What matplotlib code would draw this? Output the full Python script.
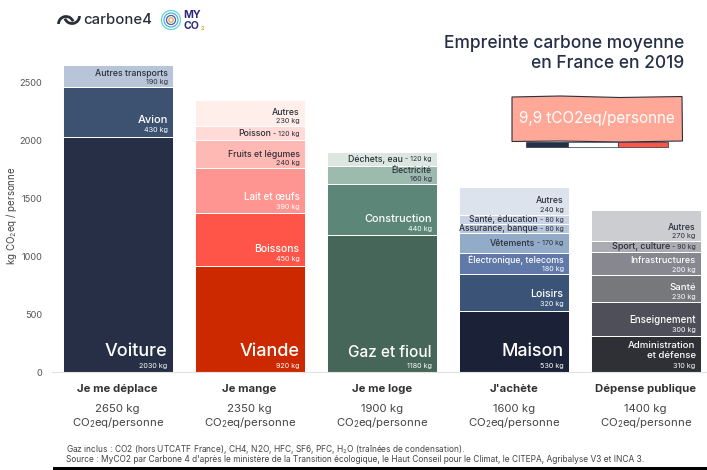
import matplotlib
matplotlib.use('Agg')
import matplotlib.pyplot as plt
from matplotlib.patches import Rectangle, Polygon, Circle, Arc

plt.rcParams['font.family'] = ['Inter', 'DejaVu Sans']
plt.rcParams['mathtext.default'] = 'regular'

# data, one list per column, from the bottom up
categories = ['Je me déplace', 'Je mange', 'Je me loge', "J'achète", 'Dépense publique']
totals = [2650, 2350, 1900, 1600, 1400]
yticks = [0, 500, 1000, 1500, 2000, 2500]

deplace_names = ['Voiture', 'Avion', 'Autres transports']
deplace_vals = [2030, 430, 190]
mange_names = ['Viande', 'Boissons', 'Lait et œufs', 'Fruits et légumes', 'Poisson', 'Autres']
mange_vals = [920, 450, 390, 240, 120, 230]
loge_names = ['Gaz et fioul', 'Construction', 'Électricité', 'Déchets, eau']
loge_vals = [1180, 440, 160, 120]
achete_names = ['Maison', 'Loisirs', 'Électronique, telecoms', 'Vêtements',
                'Assurance, banque', 'Santé, éducation', 'Autres']
achete_vals = [530, 320, 180, 170, 80, 80, 240]
public_names = ['Administration\net défense', 'Enseignement', 'Santé', 'Infrastructures',
                'Sport, culture', 'Autres']
public_vals = [310, 300, 230, 200, 90, 270]

names = [deplace_names, mange_names, loge_names, achete_names, public_names]
values = [deplace_vals, mange_vals, loge_vals, achete_vals, public_vals]

colors = [
    ['#262f45', '#3d5170', '#b8c5d8'],
    ['#cc2900', '#ff5549', '#ff9590', '#ffb9b4', '#ffdad7', '#ffeeea'],
    ['#456659', '#5c8778', '#9dbaaf', '#dce7e2'],
    ['#1b2237', '#3c5378', '#6079a8', '#92abc9', '#b9c7dc', '#c9d3e3', '#dce3ed'],
    ['#2f3036', '#4e4f58', '#77787b', '#86878f', '#abacb2', '#cccdd1'],
]
# font size of the name in each segment
sizes = [
    [13, 8, 6.3],
    [13, 7.5, 7, 6.3, 6.3, 6.3],
    [11.1, 7.9, 6.1, 6.3],
    [12.9, 7.6, 6.3, 6.3, 6.1, 6.1, 6.3],
    [6.9, 7, 6.9, 6.6, 6.5, 6.3],
]
# segments with name and kg on one line
inline = {(1, 4), (2, 3), (3, 3), (3, 4), (3, 5), (4, 4)}
dark_text = {(0, 2), (1, 3), (1, 4), (1, 5), (2, 2), (2, 3), (3, 3), (3, 4), (3, 5),
             (3, 6), (4, 4), (4, 5)}
DARK = '#2b2f3a'

W, H = 707, 470
fig = plt.figure(figsize=(W / 100, H / 100), dpi=100)
ax = fig.add_axes([52 / W, (H - 372.3) / H, (W - 52) / W, (372.3 - 24.3) / H])
ax.set_xlim(-0.497, 4.465)
ax.set_ylim(0, 3000)
for s in ['top', 'left', 'right']:
    ax.spines[s].set_visible(False)
ax.spines['bottom'].set_color('#e2e2e2')
ax.set_xticks([])
ax.set_yticks(yticks)
ax.tick_params(axis='y', length=0, pad=7, labelsize=6.6, labelcolor='#555555')
ax.set_ylabel('kg CO$_2$eq / personne', fontsize=7, color='#444444')
ax.yaxis.set_label_coords(-0.05, 0.449)

PX = 0.72  # points per pixel
fig.canvas.draw()
renderer = fig.canvas.get_renderer()


def put(i, y, dx, dy, s, size, color, weight='normal'):
    return ax.annotate(s, xy=(i + 0.4167, y), xytext=(-dx * PX, dy * PX), textcoords='offset points',
                       ha='right', va='center', fontsize=size, color=color, fontweight=weight)


for i in range(len(categories)):
    bottom = 0
    for j, v in enumerate(values[i]):
        ax.bar(i, v, bottom=bottom, width=0.833, color=colors[i][j], edgecolor='white', linewidth=0.7)
        col = DARK if (i, j) in dark_text else 'white'
        size = sizes[i][j]
        kg = f'{v} kg'
        if (i, j) in inline:
            mid = v / 2 * 348 / 3000 - 0.5
            t = put(i, bottom, 5, mid, f'- {kg}', 5, col)
            w = t.get_window_extent(renderer).width
            put(i, bottom, 5 + w + 2, mid, names[i][j], size, col, 'medium')
        else:
            off = 5 if v < 300 else 6.5
            put(i, bottom, 5, off, kg, 5.2, col)
            nlines = names[i][j].count('\n')
            put(i, bottom, 5, off + 3.5 + size * 0.85 + nlines * 6, names[i][j], size, col, 'medium')
        bottom += v
    # labels under the bars
    x = i
    ax.annotate(categories[i], xy=(x, 0), xytext=(0, -17 * PX), textcoords='offset points',
                ha='center', va='center', fontsize=8.2, fontweight='bold', color='#333333')
    ax.annotate(f'{totals[i]} kg', xy=(x, 0), xytext=(0, -37 * PX), textcoords='offset points',
                ha='center', va='center', fontsize=8.2, color='#444444')
    ax.annotate('CO$_2$eq/personne', xy=(x, 0), xytext=(0, -50 * PX), textcoords='offset points',
                ha='center', va='center', fontsize=8.2, color='#444444')

# overlay in pixel coordinates for the title, logos and notes
ov = fig.add_axes([0, 0, 1, 1], zorder=5)
ov.set_xlim(0, W)
ov.set_ylim(H, 0)
ov.axis('off')

NAVY = '#252f45'
ov.text(684, 43, 'Empreinte carbone moyenne', ha='right', va='center', fontsize=12.5, color=NAVY, fontweight='medium')
ov.text(684, 63, 'en France en 2019', ha='right', va='center', fontsize=12.5, color=NAVY, fontweight='medium')

# hand-drawn box and flag
ov.add_patch(Polygon([(512, 97), (560, 96), (620, 97.5), (682, 96.5), (682.5, 141), (620, 142), (560, 141), (512, 141.5)],
                     facecolor='#ffa897', edgecolor='#2b2f3a', linewidth=0.8))
ov.text(597, 119, '9,9 tCO2eq/personne', ha='center', va='center', fontsize=11, color='white')
ov.add_patch(Rectangle((526, 142), 42, 5, facecolor=NAVY, edgecolor=NAVY, linewidth=0.5))
ov.add_patch(Rectangle((568, 142), 50, 5, facecolor='white', edgecolor=NAVY, linewidth=0.5))
ov.add_patch(Rectangle((618, 142), 50, 5, facecolor='#ff5549', edgecolor=NAVY, linewidth=0.5))

# logos
ov.text(83, 20, 'carbone4', ha='left', va='center', fontsize=10.7, color='#2b2f3a', fontweight='medium')
ov.add_patch(Arc((66, 24), 15, 15, theta1=180, theta2=340, color='#2b2f3a', linewidth=2))
ov.add_patch(Arc((72, 16), 15, 15, theta1=0, theta2=160, color='#2b2f3a', linewidth=2))
for r, c in [(9.5, '#5fd8c8'), (7, '#56a9e0'), (4.5, '#3f5fb8'), (2.2, '#f2a33a')]:
    ov.add_patch(Circle((171, 20), r, fill=False, edgecolor=c, linewidth=0.9))
ov.text(183, 15.5, 'MY', ha='left', va='center', fontsize=7.6, fontweight='bold', color='#2d2a7a')
ov.text(183, 26, 'CO', ha='left', va='center', fontsize=7.6, fontweight='bold', color='#2d2a7a')
ov.text(200.5, 28.5, '2', ha='left', va='center', fontsize=4, fontweight='bold', color='#f2a33a')

# footnote
ov.text(65.5, 449, 'Gaz inclus : CO2 (hors UTCATF France), CH4, N2O, HFC, SF6, PFC, H$_2$O (traînées de condensation).',
        ha='left', va='center', fontsize=6.03, color='#444444')
ov.text(65.5, 459.5, "Source : MyCO2 par Carbone 4 d'après le ministère de la Transition écologique, le Haut Conseil pour le Climat, le CITEPA, Agribalyse V3 et INCA 3.",
        ha='left', va='center', fontsize=6.03, color='#444444')
ov.add_patch(Rectangle((53, 467), W - 53, 3, facecolor='black', edgecolor='none'))

fig.savefig('out.png', dpi=100)
